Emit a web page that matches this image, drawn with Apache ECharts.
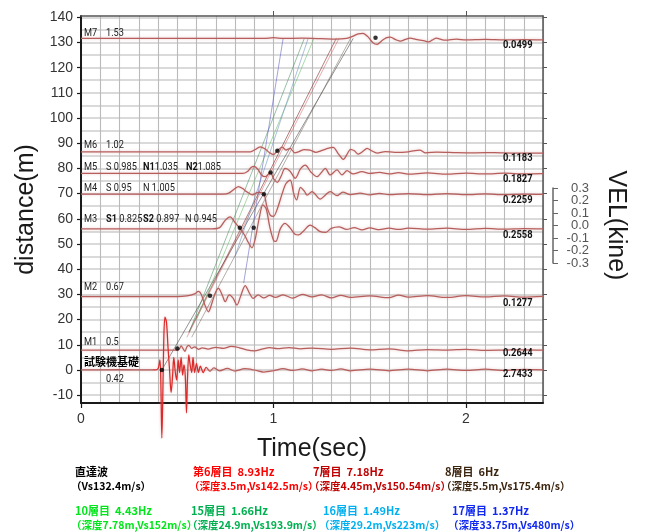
<!DOCTYPE html>
<html>
<head>
<meta charset="utf-8">
<script src="https://cdn.jsdelivr.net/npm/echarts@6/dist/echarts.min.js"></script>
<style>
html, body { margin: 0; padding: 0; background: #ffffff; }
#chart { width: 657px; height: 532px; }
</style>
</head>
<body>
<div id="chart"></div>
<script>
// ---- axis ranges and tick values ----
const timeRange = [0, 2.4];
const distRange = [-13.1, 140.5];
const timeTickLabels = [0, 1, 2];
const timeTopTicks = [1, 2];
const distTickLabels = [-10, 0, 10, 20, 30, 40, 50, 60, 70, 80, 90, 100, 110, 120, 130, 140];
const distGridValues = [-10, -5, 0, 5, 10, 15, 20, 25, 30, 35, 40, 45, 50, 55, 60, 65, 70, 75, 80, 85, 90, 95, 100, 105, 110, 115, 120, 125, 130, 135, 140];
const velRange = [-0.3, 0.3];
const velTicks = [-0.3, -0.2, -0.1, 0, 0.1, 0.2, 0.3];
const velLabelsOdd = [-0.3, -0.1, 0.1, 0.3];
const velLabelsEven = [-0.2, 0, 0.2];

// ---- velocity records, [time (s), distance (m)] with each trace offset to its sensor depth ----
const traceBase = [[0,0],[0.2,0.1],[0.38,0],[0.40,0.5],[0.41,4],[0.415,-6],[0.42,-27],[0.425,-10],[0.43,12],[0.436,21],[0.444,19],[0.452,9],[0.46,0],[0.468,-9],[0.476,-2],[0.482,5],[0.49,-1],[0.497,-4],[0.505,4],[0.512,-1],[0.52,5],[0.528,-2],[0.535,2],[0.542,-3],[0.548,-17],[0.553,-4],[0.56,6],[0.567,2],[0.575,-1],[0.582,5],[0.59,-1],[0.6,2.5],[0.61,-1],[0.62,1.5],[0.635,-1],[0.65,1],[0.67,-0.5],[0.69,0.8],[0.72,-0.3],[0.76,0.6],[0.8,-0.4],[0.85,0.5],[0.9,0],[0.95,-0.8],[1.0,-0.3],[1.05,0.5],[1.1,-0.2],[1.15,0.4],[1.2,-0.3],[1.25,0.3],[1.3,-0.2],[1.35,0.4],[1.4,-0.3],[1.5,0.3],[1.6,-0.3],[1.7,0.3],[1.8,-0.3],[1.9,0.3],[2.0,-0.2],[2.1,0.3],[2.2,-0.2],[2.3,0.2],[2.4,0]];
const traceM1 = [[0,7.9],[0.3,7.9],[0.5,7.9],[0.51,8.2],[0.52,9.6],[0.53,8.5],[0.54,7.4],[0.55,9.2],[0.56,9.8],[0.575,8.6],[0.59,9.2],[0.61,8.2],[0.63,8.8],[0.66,8.3],[0.7,9.0],[0.74,8.6],[0.78,9.4],[0.82,8.9],[0.86,8.0],[0.9,7.6],[0.94,8.3],[0.98,8.9],[1.02,8.5],[1.08,8.9],[1.14,8.4],[1.2,8.7],[1.3,8.2],[1.4,8.7],[1.5,8.0],[1.6,8.4],[1.7,7.6],[1.8,8.1],[1.9,7.9],[2.0,8.2],[2.1,7.8],[2.2,7.9],[2.3,8.0],[2.4,7.9]];
const traceM2 = [[0,29.1],[0.5,29.1],[0.55,29.4],[0.59,30.2],[0.61,31.2],[0.625,30.0],[0.645,25.5],[0.662,23.1],[0.68,26.5],[0.7,31.0],[0.714,32.4],[0.735,29.5],[0.749,27.1],[0.77,29.8],[0.79,28.5],[0.81,25.8],[0.83,29.5],[0.853,33.5],[0.875,30.5],[0.895,28.4],[0.92,29.8],[0.95,28.6],[0.98,29.6],[1.01,28.8],[1.05,29.8],[1.1,28.5],[1.15,30.0],[1.2,29.0],[1.25,29.8],[1.3,28.6],[1.35,29.6],[1.4,28.8],[1.5,29.4],[1.6,28.7],[1.65,29.7],[1.7,28.9],[1.8,29.5],[1.9,28.8],[2.0,29.5],[2.1,29.0],[2.2,29.4],[2.3,28.9],[2.4,29.2]];
const traceM3 = [[0,56],[0.68,56],[0.72,56.5],[0.75,59.5],[0.775,60.8],[0.80,58.5],[0.825,56.2],[0.85,53.5],[0.87,50.5],[0.888,48.5],[0.905,52],[0.925,60],[0.945,65.5],[0.962,64],[0.98,57],[1.0,51.5],[1.012,51],[1.035,56],[1.06,58.2],[1.085,56.5],[1.11,54],[1.13,53.6],[1.16,55.5],[1.19,57.5],[1.215,56.5],[1.24,55],[1.27,54.6],[1.3,56.2],[1.34,56.8],[1.38,55.8],[1.42,56.5],[1.46,55.6],[1.5,56.4],[1.55,55.7],[1.6,56.3],[1.65,55.8],[1.7,56.3],[1.8,55.9],[1.9,56.3],[2.0,55.8],[2.1,56.2],[2.2,55.9],[2.3,56.1],[2.4,56]];
const traceM4 = [[0,69.8],[0.74,69.8],[0.77,70.3],[0.8,72],[0.818,72.8],[0.84,72],[0.86,70.8],[0.89,69.5],[0.92,70.5],[0.95,69.8],[0.965,65],[0.983,61.5],[1.0,61],[1.02,64],[1.045,70],[1.065,74],[1.087,75.4],[1.105,70],[1.12,67.5],[1.14,72.5],[1.16,71],[1.175,69.4],[1.2,70.8],[1.243,67.8],[1.27,69.5],[1.295,70.8],[1.33,69.2],[1.36,70.6],[1.4,69.6],[1.45,70.2],[1.5,69.5],[1.55,70.1],[1.6,69.6],[1.7,70.0],[1.8,69.6],[1.9,70.0],[2.0,69.6],[2.1,69.9],[2.2,69.6],[2.3,69.8],[2.4,69.7]];
const traceM5 = [[0,78],[0.84,78],[0.865,78.8],[0.885,80.5],[0.9,80.8],[0.92,79.5],[0.94,77.2],[0.957,76.7],[0.975,77.8],[0.985,78.4],[1.0,76],[1.02,74.5],[1.04,77],[1.06,80],[1.085,79],[1.113,76.1],[1.14,79.8],[1.165,81.3],[1.195,78.5],[1.226,76.7],[1.25,78.5],[1.269,80],[1.295,77.4],[1.33,79.4],[1.356,77.4],[1.382,79.1],[1.414,77.8],[1.459,78.7],[1.503,78],[1.55,78.4],[1.6,77.8],[1.65,78.3],[1.7,77.7],[1.8,78.2],[1.9,77.7],[2.0,78.1],[2.1,77.8],[2.2,78.1],[2.3,77.8],[2.4,77.9]];
const traceM6 = [[0,86.6],[0.88,86.6],[0.905,87.5],[0.93,88.6],[0.955,87.8],[0.98,86.2],[1.0,85.5],[1.02,87],[1.045,88.5],[1.065,87.3],[1.087,88],[1.11,86.2],[1.13,86.6],[1.16,87.5],[1.19,87.3],[1.22,86.4],[1.243,86.9],[1.275,87.8],[1.31,88.4],[1.335,86],[1.363,83.6],[1.385,86],[1.4,87.6],[1.42,87],[1.44,85.7],[1.465,86.8],[1.486,88],[1.51,87],[1.538,86.1],[1.58,86.7],[1.63,86.4],[1.7,86.6],[1.76,87.3],[1.79,86.2],[1.85,86.5],[1.95,86.3],[2.05,86.2],[2.15,86.3],[2.25,86.1],[2.4,86.1]];
const traceM7 = [[0,131.6],[0.95,131.6],[1.0,131.9],[1.05,131.6],[1.15,131.7],[1.25,131.5],[1.32,131.3],[1.38,131.6],[1.41,132.4],[1.44,133.4],[1.465,133.6],[1.49,132.3],[1.515,130],[1.538,129.2],[1.56,130.5],[1.585,131.8],[1.607,132.1],[1.635,131.1],[1.66,130.5],[1.685,131.2],[1.71,131.7],[1.74,131.2],[1.763,130.9],[1.785,130.6],[1.805,130.2],[1.826,131],[1.846,131.7],[1.87,131.2],[1.893,130.9],[1.95,131.3],[2.0,131],[2.1,131.2],[2.2,131],[2.3,131.1],[2.4,131]];

// ---- picked arrival times [time, distance] ----
const arrivalPicks = [[0.42,0],[0.5,8.5],[0.67,29.5],[0.825,56.5],[0.897,56.5],[0.95,69.8],[0.985,78.4],[1.02,87],[1.53,131.9]];

// ---- travel-time lines (start and end point) ----
const lineDirect = [[0.42,0],[1.414,131.6]];
const lineLayer6 = [[0.55,13],[1.34,131.6]];
const lineLayer7 = [[0.56,15],[1.326,131.6]];
const lineLayer8 = [[0.575,13],[1.40,131.6]];
const lineLayer10 = [[0.60,20],[1.21,131.6]];
const lineLayer15 = [[0.562,15],[1.16,131.6]];
const lineLayer16 = [[0.80,45],[1.18,131.6]];
const lineLayer17 = [[0.845,34.5],[1.05,131.6]];

// ---- text ----
const sensorNames = ['M7', 'M6', 'M5', 'M4', 'M3', 'M2', 'M1'];
const peakAmplitudes = ['0.0499', '0.1183', '0.1827', '0.2259', '0.2558', '0.1277', '0.2644', '2.7433'];
const legendTitles = ['直達波', '第6層目  8.93Hz', '7層目  7.18Hz', '8層目  6Hz', '10層目  4.43Hz', '15層目  1.66Hz', '16層目  1.49Hz', '17層目  1.37Hz'];
const legendNotes = ['（Vs132.4m/s）', '（深度3.5m,Vs142.5m/s）', '（深度4.45m,Vs150.54m/s）', '（深度5.5m,Vs175.4m/s）', '（深度7.78m,Vs152m/s）', '（深度24.9m,Vs193.9m/s）', '（深度29.2m,Vs223m/s）', '（深度33.75m,Vs480m/s）'];

// ---- styling ----
const traceColor = '#b65e5c';
const brightRed = '#dc2a2a';
const legendColors = ['#000000', '#ff0000', '#c00000', '#3d2610', '#00e61a', '#00b050', '#00b0f0', '#1028f0'];
const lineColors = ['rgba(60,60,60,0.55)', 'rgba(200,70,70,0.45)', 'rgba(130,40,40,0.6)', 'rgba(110,95,85,0.5)', 'rgba(100,185,100,0.55)', 'rgba(70,140,95,0.55)', 'rgba(100,140,190,0.55)', 'rgba(90,90,190,0.55)'];
const travelLines = [lineDirect, lineLayer6, lineLayer7, lineLayer8, lineLayer10, lineLayer15, lineLayer16, lineLayer17];

const chart = echarts.init(document.getElementById('chart'), null, { renderer: 'canvas' });

function trace(name, data, color) {
  return {
    name, type: 'line', xAxisIndex: 0, yAxisIndex: 0, data,
    smooth: 0.3, symbol: 'none', silent: true, z: 4, clip: false,
    lineStyle: { color, width: 1.25, shadowColor: 'rgba(205,130,130,0.5)', shadowBlur: 3 }
  };
}

// bright red for the first shaking in the foundation record
const baseColor = new echarts.graphic.LinearGradient(0, 0, 1, 0, [
  { offset: 0, color: traceColor }, { offset: 0.158, color: traceColor },
  { offset: 0.162, color: brightRed }, { offset: 0.27, color: brightRed },
  { offset: 0.28, color: traceColor }, { offset: 1, color: traceColor }
]);

const series = [];
travelLines.forEach((d, i) => {
  series.push({
    type: 'line', xAxisIndex: 0, yAxisIndex: 0, data: d, symbol: 'none', silent: true, z: 3,
    lineStyle: { color: lineColors[i], width: 1 }
  });
});
series.push(trace('M7', traceM7, traceColor));
series.push(trace('M6', traceM6, traceColor));
series.push(trace('M5', traceM5, traceColor));
series.push(trace('M4', traceM4, traceColor));
series.push(trace('M3', traceM3, traceColor));
series.push(trace('M2', traceM2, traceColor));
series.push(trace('M1', traceM1, traceColor));
series.push(trace('試験機基礎', traceBase, baseColor));
series.push({
  type: 'scatter', xAxisIndex: 0, yAxisIndex: 0, data: arrivalPicks, symbolSize: 4.5, silent: true, z: 6,
  itemStyle: { color: '#000000' }
});

// ---- annotation text ----
const sans = 'Roboto, "Liberation Sans", sans-serif';
const cjk = '"Noto Sans CJK JP", sans-serif';
const txt = (x, y, text, extra, sx) => ({
  type: 'text', x, y, z: 100, zlevel: 1, silent: true, scaleX: sx || 1,
  style: Object.assign({ text, font: '11.5px ' + sans, fill: '#222', verticalAlign: 'middle' }, extra || {})
});
const richBold = { b: { font: 'bold 11.5px ' + sans, fill: '#111' } };
const tight = 0.8;   // condensed look for the small annotations

const labelRowsY = [33, 145, 167, 188, 219, 287, 342];
const graphics = [];
sensorNames.forEach((n, i) => graphics.push(txt(84, labelRowsY[i], n, null, tight)));
graphics.push(txt(106, 33, '1.53', null, tight));
graphics.push(txt(106, 145, '1.02', null, tight));
graphics.push(txt(106, 167, 'S 0.985', null, tight));
graphics.push(txt(143, 167, '{b|N1}1.035', { rich: richBold }, tight));
graphics.push(txt(186, 167, '{b|N2}1.085', { rich: richBold }, tight));
graphics.push(txt(106, 188, 'S 0.95', null, tight));
graphics.push(txt(143, 188, 'N 1.005', null, tight));
graphics.push(txt(106, 219, '{b|S1} 0.825', { rich: richBold }, tight));
graphics.push(txt(143, 219, '{b|S2} 0.897', { rich: richBold }, tight));
graphics.push(txt(185, 219, 'N 0.945', null, tight));
graphics.push(txt(106, 287, '0.67', null, tight));
graphics.push(txt(106, 342, '0.5', null, tight));
graphics.push(txt(84, 362, '試験機基礎', { font: 'bold 11px ' + cjk, fill: '#000' }));
graphics.push(txt(106, 379, '0.42', null, tight));

const ampY = [45, 158, 179, 200, 235, 303, 353, 374];
peakAmplitudes.forEach((v, i) => graphics.push(txt(503, ampY[i], v, { font: 'bold 11px ' + sans, fill: '#111' }, 0.85)));

const legendX = [75, 193, 313, 445, 75, 191, 323, 452];
const legendY = [472, 472, 472, 472, 511, 511, 511, 511];
legendTitles.forEach((t, i) => {
  graphics.push(txt(legendX[i], legendY[i], t, { font: 'bold 11px ' + cjk, fill: legendColors[i] }));
  graphics.push(txt(legendX[i] - 4, legendY[i] + 14, legendNotes[i], { font: 'bold 10.5px ' + cjk, fill: legendColors[i] }));
});

const axisFont = '"Liberation Sans", Arial, sans-serif';
const velFormatter = v => (Math.abs(v) < 1e-9 ? '0.0' : v.toFixed(1));

chart.setOption({
  animation: false,
  backgroundColor: '#ffffff',
  grid: [
    { left: 81, top: 16, width: 462, height: 387, containLabel: false },
    { left: 552, top: 188, width: 1, height: 75, containLabel: false }
  ],
  xAxis: [
    { gridIndex: 0, type: 'value', min: timeRange[0], max: timeRange[1], interval: 0.1, position: 'bottom',
      axisLine: { show: false, onZero: false }, axisTick: { show: false }, axisLabel: { show: false },
      splitLine: { show: true, lineStyle: { color: '#bababa', width: 1.1 } } },
    { gridIndex: 0, type: 'value', min: timeRange[0], max: timeRange[1], position: 'bottom',
      axisLine: { show: true, onZero: false, lineStyle: { color: '#1a1a1a', width: 2 } },
      axisTick: { show: true, customValues: timeTickLabels, length: 5, lineStyle: { color: '#1a1a1a', width: 1.2 } },
      axisLabel: { customValues: timeTickLabels, fontSize: 14, color: '#333', margin: 9, fontFamily: axisFont },
      splitLine: { show: false },
      name: 'Time(sec)', nameLocation: 'middle', nameGap: 34,
      nameTextStyle: { fontSize: 25, color: '#1a1a1a', fontFamily: axisFont } },
    { gridIndex: 0, type: 'value', min: timeRange[0], max: timeRange[1], position: 'top',
      axisLine: { show: true, onZero: false, lineStyle: { color: '#555', width: 1.5 } },
      axisTick: { show: true, customValues: timeTopTicks, length: 5, lineStyle: { color: '#555' } },
      axisLabel: { show: false }, splitLine: { show: false } },
    { gridIndex: 1, type: 'value', min: 0, max: 1, show: false }
  ],
  yAxis: [
    { gridIndex: 0, type: 'value', min: distRange[0], max: distRange[1], position: 'left',
      axisLine: { show: false, onZero: false }, axisTick: { show: false, customValues: distGridValues },
      axisLabel: { show: false, customValues: distGridValues },
      splitLine: { show: true, lineStyle: { color: '#dadada', width: 2 } } },
    { gridIndex: 0, type: 'value', min: distRange[0], max: distRange[1], position: 'left',
      axisLine: { show: true, onZero: false, lineStyle: { color: '#1a1a1a', width: 2 } },
      axisTick: { show: true, customValues: distTickLabels, length: 4, lineStyle: { color: '#1a1a1a', width: 1.2 } },
      axisLabel: { customValues: distTickLabels, fontSize: 14, color: '#333', margin: 8, fontFamily: axisFont },
      splitLine: { show: false },
      name: 'distance(m)', nameLocation: 'middle', nameGap: 40,
      nameTextStyle: { fontSize: 25, color: '#1a1a1a', fontFamily: axisFont } },
    { gridIndex: 0, type: 'value', min: distRange[0], max: distRange[1], position: 'right',
      axisLine: { show: true, onZero: false, lineStyle: { color: '#555', width: 1.5 } },
      axisTick: { show: true, customValues: distTickLabels, length: 4, lineStyle: { color: '#555' } },
      axisLabel: { show: false }, splitLine: { show: false } },
    // velocity scale bar: line, ticks and every other label
    { gridIndex: 1, type: 'value', min: velRange[0], max: velRange[1], position: 'right',
      axisLine: { show: true, onZero: false, lineStyle: { color: '#666', width: 1.5 } },
      axisTick: { show: true, customValues: velTicks, length: 5, lineStyle: { color: '#666' } },
      axisLabel: { customValues: velLabelsOdd, align: 'right', margin: 36, fontSize: 13, color: '#555',
        fontFamily: axisFont, formatter: velFormatter },
      splitLine: { show: false },
      name: 'VEL(kine)', nameLocation: 'middle', nameRotate: -90, nameGap: 50,
      nameTextStyle: { fontSize: 25, color: '#1a1a1a', fontFamily: axisFont } },
    // velocity scale bar: the remaining labels
    { gridIndex: 1, type: 'value', min: velRange[0], max: velRange[1], position: 'right',
      axisLine: { show: false, onZero: false }, axisTick: { show: false, customValues: velLabelsEven },
      axisLabel: { customValues: velLabelsEven, align: 'right', margin: 36, fontSize: 13, color: '#555',
        fontFamily: axisFont, formatter: velFormatter },
      splitLine: { show: false } }
  ],
  series,
  graphic: graphics
});
</script>
</body>
</html>
